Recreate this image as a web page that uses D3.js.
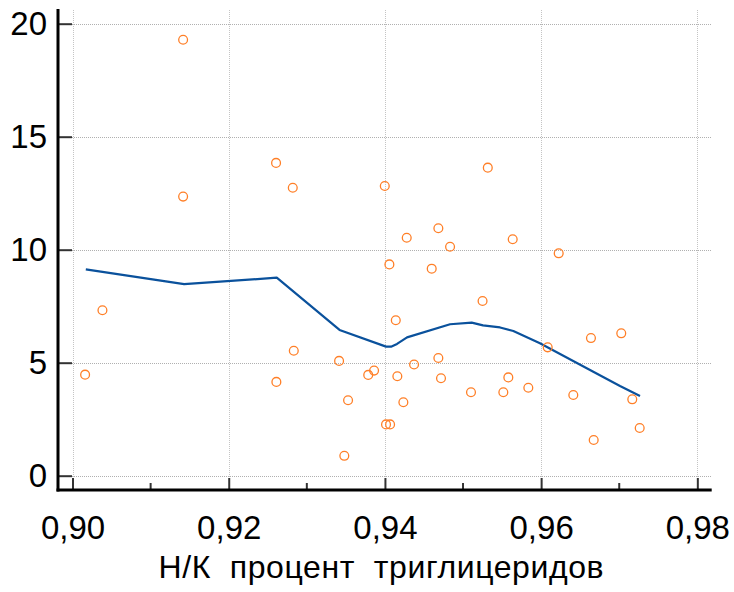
<!DOCTYPE html>
<html>
<head>
<meta charset="utf-8">
<script src="https://cdn.jsdelivr.net/npm/d3@7"></script>
<style>
  html, body { margin: 0; padding: 0; background: #fff; }
  svg { display: block; }
  text { font-family: "Liberation Sans", Arial, sans-serif; fill: #000; }
</style>
</head>
<body>
<svg id="chart" width="734" height="592"></svg>
<script>
// Observations: triglyceride H/K fraction (x) and response value (y)
const obsX = [0.90161, 0.90383, 0.91416, 0.91416, 0.92606, 0.92610, 0.92820, 0.92833,
  0.93413, 0.93480, 0.93528, 0.93786, 0.93861, 0.93998, 0.94014, 0.94066, 0.94057,
  0.94139, 0.94159, 0.94236, 0.94279, 0.94373, 0.94599, 0.94684, 0.94684, 0.94718,
  0.94834, 0.95102, 0.95250, 0.95317, 0.95516, 0.95580, 0.95636, 0.95836, 0.96084,
  0.96225, 0.96412, 0.96638, 0.96673, 0.97026, 0.97167, 0.97262];
const obsY = [4.47, 7.32, 19.29, 12.35, 13.84, 4.15, 12.74, 5.53,
  5.08, 0.88, 3.34, 4.46, 4.65, 12.82, 2.27, 2.27, 9.35,
  6.88, 4.40, 3.25, 10.53, 4.92, 9.16, 10.95, 5.21, 4.31,
  10.13, 3.69, 7.73, 13.63, 3.69, 4.35, 10.46, 3.89, 5.68,
  9.84, 3.57, 6.09, 1.58, 6.30, 3.38, 2.11];

// Smoothed trend curve
const trendX = [0.90170, 0.91429, 0.92615, 0.93419, 0.94014, 0.94078, 0.94155, 0.94283,
  0.94834, 0.95111, 0.95256, 0.95474, 0.95644, 0.95985, 0.96668, 0.97010, 0.97266];
const trendY = [9.13, 8.48, 8.76, 6.45, 5.71, 5.71, 5.83, 6.12,
  6.70, 6.77, 6.65, 6.56, 6.40, 5.86, 4.60, 3.97, 3.53];

// Axis ticks
const xMajorTicks = [0.90, 0.92, 0.94, 0.96, 0.98];
const xMinorTicks = [0.91, 0.93, 0.95, 0.97];
const yTicks = [0, 5, 10, 15, 20];
const xTitle = "Н/К  процент  триглицеридов";

const svg = d3.select("#chart");

const x = d3.scaleLinear().domain([0.89814, 0.98184]).range([58, 711.7]);
const y = d3.scaleLinear().domain([-0.633, 20.606]).range([490, 10]);

const fmtX = v => d3.format(".2f")(v).replace(".", ",");

// Grid
const grid = svg.append("g").attr("class", "grid");
grid.selectAll("line.h").data(yTicks).join("line")
  .attr("class", "h")
  .attr("x1", x.range()[0]).attr("x2", x.range()[1])
  .attr("y1", d => Math.round(y(d)) + 0.5).attr("y2", d => Math.round(y(d)) + 0.5)
  .attr("stroke", "#b0b0b0").attr("stroke-width", 1).attr("stroke-dasharray", "1,1");
grid.selectAll("line.v").data(xMajorTicks).join("line")
  .attr("class", "v")
  .attr("x1", d => Math.round(x(d)) + 0.5).attr("x2", d => Math.round(x(d)) + 0.5)
  .attr("y1", y.range()[1]).attr("y2", y.range()[0])
  .attr("stroke", "#c4c4c4").attr("stroke-width", 1).attr("stroke-dasharray", "1,1");

// Trend line
const pts = trendX.map((d, i) => [d, trendY[i]]);
svg.append("path")
  .datum(pts)
  .attr("fill", "none")
  .attr("stroke", "#0a519c")
  .attr("stroke-width", 2.2)
  .attr("stroke-linejoin", "round")
  .attr("d", d3.line().x(d => x(d[0])).y(d => y(d[1])));

// Scatter points
svg.append("g").selectAll("circle")
  .data(obsX.map((d, i) => [d, obsY[i]]))
  .join("circle")
  .attr("cx", d => x(d[0]))
  .attr("cy", d => y(d[1]))
  .attr("r", 4.4)
  .attr("fill", "none")
  .attr("stroke", "#ff7f27")
  .attr("stroke-width", 1.3);

// X axis
const xAxis = svg.append("g").attr("transform", `translate(0,${y.range()[0]})`);
xAxis.call(d3.axisBottom(x).tickValues(xMajorTicks).tickSize(-12).tickSizeOuter(0)
  .tickPadding(26).tickFormat(fmtX));
xAxis.selectAll(".tick line").attr("stroke", "#333").attr("stroke-width", 2);
xAxis.selectAll("text").attr("font-size", 33).attr("fill", "#000");
xAxis.select(".domain").remove();
xAxis.selectAll("line.minor").data(xMinorTicks).join("line")
  .attr("class", "minor")
  .attr("x1", d => x(d)).attr("x2", d => x(d))
  .attr("y1", 0).attr("y2", -7)
  .attr("stroke", "#333").attr("stroke-width", 2);

// Y axis
const yAxis = svg.append("g").attr("transform", `translate(${x.range()[0]},0)`);
yAxis.call(d3.axisLeft(y).tickValues(yTicks).tickSize(-14).tickSizeOuter(0)
  .tickPadding(11).tickFormat(d3.format("d")));
yAxis.selectAll(".tick line").attr("stroke", "#333").attr("stroke-width", 2);
yAxis.selectAll("text").attr("font-size", 33).attr("fill", "#000");
yAxis.select(".domain").remove();

// Axis lines
svg.append("line")
  .attr("x1", x.range()[0]).attr("x2", x.range()[0])
  .attr("y1", 9).attr("y2", y.range()[0] + 1.5)
  .attr("stroke", "#000").attr("stroke-width", 3);
svg.append("line")
  .attr("x1", x.range()[0] - 1.5).attr("x2", x.range()[1])
  .attr("y1", y.range()[0]).attr("y2", y.range()[0])
  .attr("stroke", "#000").attr("stroke-width", 3);

// Axis title
svg.append("text")
  .attr("x", 381).attr("y", 578)
  .attr("text-anchor", "middle")
  .attr("font-size", 32)
  .attr("textLength", 445)
  .attr("lengthAdjust", "spacing")
  .style("white-space", "pre")
  .text(xTitle);
</script>
</body>
</html>
